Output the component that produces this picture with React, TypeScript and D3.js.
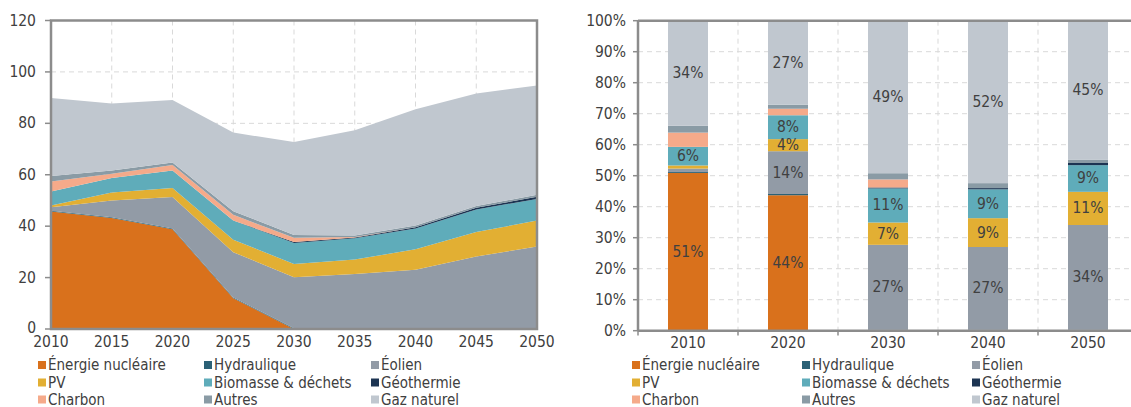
import React from 'react';
import * as d3 from 'd3';

// production by source (left, stacked areas)
const years = [2010, 2015, 2020, 2025, 2030, 2035, 2040, 2045, 2050];
const nucleaire = [45.7, 43.2, 38.8, 12.0, 0, 0, 0, 0, 0];
const hydraulique = [0.3, 0.3, 0.3, 0.3, 0.3, 0.3, 0.3, 0.3, 0.3];
const eolien = [1.4, 6.5, 12.2, 17.6, 19.8, 21.1, 22.7, 27.9, 31.8];
const pv = [0.6, 3.1, 3.5, 4.8, 5.2, 5.6, 8.0, 9.5, 10.1];
const biomasse = [5.5, 5.6, 6.9, 7.5, 8.2, 8.3, 8.1, 8.8, 8.4];
const geothermie = [0, 0, 0, 0, 0.3, 0.3, 0.5, 0.7, 0.8];
const charbon = [3.9, 1.7, 2.1, 2.2, 1.7, 0.2, 0, 0, 0];
const autres = [2.1, 1.3, 1.0, 1.4, 1.1, 0.6, 0.7, 0.6, 0.8];
const gaz = [30.4, 26.0, 24.3, 30.6, 36.1, 40.9, 45.2, 43.8, 42.5];

// shares in % (right, stacked bars)
const shareYears = [2010, 2020, 2030, 2040, 2050];
const nucleairePct = [50.9, 43.7, 0, 0, 0];
const hydrauliquePct = [0.3, 0.4, 0.3, 0.3, 0.3];
const eolienPct = [1.1, 13.8, 27.4, 26.7, 33.8];
const pvPct = [1.0, 3.9, 7.2, 9.3, 10.7];
const biomassePct = [6.0, 7.7, 11.0, 9.3, 8.6];
const geothermiePct = [0, 0, 0.3, 0.4, 0.7];
const charbonPct = [4.6, 2.1, 2.6, 0, 0];
const autresPct = [2.2, 1.3, 2.0, 1.6, 1.0];
const gazPct = [33.9, 27.1, 49.2, 52.4, 44.9];

const yTicksLeft = [0, 20, 40, 60, 80, 100, 120];
const yTicksRight = [0, 10, 20, 30, 40, 50, 60, 70, 80, 90, 100];

const keys = ['nuc', 'hyd', 'eol', 'pv', 'bio', 'geo', 'cha', 'aut', 'gaz'];
const labels = ['Énergie nucléaire', 'Hydraulique', 'Éolien', 'PV', 'Biomasse & déchets', 'Géothermie', 'Charbon', 'Autres', 'Gaz naturel'];
const colors = ['#D9711C', '#2B6176', '#929BA6', '#E2AF33', '#5FACBA', '#1C3452', '#F5AA8A', '#8A9BA5', '#C0C7CF'];
const labelled = ['nuc', 'eol', 'pv', 'bio', 'gaz'];

const font = '"DejaVu Sans Condensed", "DejaVu Sans", sans-serif';
const textCol = '#404040';
const frameCol = '#8C8C8C';
const gridCol = '#D9D9D9';

const areaSeries = [nucleaire, hydraulique, eolien, pv, biomasse, geothermie, charbon, autres, gaz];
const barSeries = [nucleairePct, hydrauliquePct, eolienPct, pvPct, biomassePct, geothermiePct, charbonPct, autresPct, gazPct];

const Legend = ({ x0, cols }) => {
  const rows = [365, 382.5, 399.5];
  return (
    <g>
      {labels.map((l, i) => {
        const cx = x0 + cols[i % 3];
        const cy = rows[Math.floor(i / 3)];
        return (
          <g key={l}>
            <rect x={cx} y={cy - 4} width={8} height={8} fill={colors[i]} />
            <text x={cx + 10} y={cy} dominantBaseline="central" fontSize={15} fill={textCol} fontFamily={font}>{l}</text>
          </g>
        );
      })}
    </g>
  );
};

const AreaChart = () => {
  const x = d3.scaleLinear().domain([2010, 2050]).range([51, 537]);
  const y = d3.scaleLinear().domain([0, 120]).range([329, 20.5]);
  const rows = years.map((yr, i) => {
    const r: any = { year: yr };
    keys.forEach((k, j) => (r[k] = areaSeries[j][i]));
    return r;
  });
  const stacked = d3.stack().keys(keys)(rows);
  const area = d3.area<any>()
    .x((d) => x(d.data.year))
    .y0((d) => y(d[0]))
    .y1((d) => y(d[1]));

  return (
    <g>
      {yTicksLeft.slice(1, -1).map((t) => (
        <line key={'h' + t} x1={51} x2={537} y1={y(t)} y2={y(t)} stroke={gridCol} strokeDasharray="5,4" />
      ))}
      {years.slice(1, -1).map((t) => (
        <line key={'v' + t} x1={x(t)} x2={x(t)} y1={20.5} y2={329} stroke={gridCol} strokeDasharray="5,4" />
      ))}
      {stacked.map((s, i) => (
        <path key={s.key} d={area(s) || ''} fill={colors[i]} />
      ))}
      <rect x={51} y={20.5} width={486} height={308.5} fill="none" stroke={frameCol} strokeWidth={2.5} />
      {yTicksLeft.map((t) => (
        <g key={'t' + t}>
          <line x1={45} x2={51} y1={y(t)} y2={y(t)} stroke={frameCol} strokeWidth={1.5} />
          <text x={36} y={y(t) - (t === 0 ? 1 : 0)} textAnchor="end" dominantBaseline="central" fontSize={15.5} fill={textCol} fontFamily={font}>{t}</text>
        </g>
      ))}
      {years.map((t) => (
        <text key={'x' + t} x={x(t)} y={347} textAnchor="middle" fontSize={15.5} fill={textCol} fontFamily={font}>{t}</text>
      ))}
    </g>
  );
};

const BarChart = () => {
  const x = d3.scaleBand<number>().domain(shareYears).range([638, 1138]).paddingInner(0.6).paddingOuter(0.3);
  const y = d3.scaleLinear().domain([0, 100]).range([330.7, 20.7]);
  const rows = shareYears.map((yr, i) => {
    const r: any = { year: yr };
    keys.forEach((k, j) => (r[k] = barSeries[j][i]));
    return r;
  });
  const stacked = d3.stack().keys(keys)(rows);
  const step = x.step();
  const bounds = shareYears.map((_, i) => 638 + i * step).concat([638 + shareYears.length * step]);

  return (
    <g>
      {yTicksRight.slice(1, -1).map((t) => (
        <line key={'h' + t} x1={638} x2={1131} y1={y(t)} y2={y(t)} stroke={gridCol} strokeDasharray="5,4" />
      ))}
      {bounds.slice(1).map((b) => (
        <line key={'v' + b} x1={b} x2={b} y1={20.7} y2={330.7} stroke={gridCol} strokeDasharray="5,4" />
      ))}
      {stacked.map((s, i) => (
        <g key={s.key}>
          {s.map((d: any) => (
            <rect key={d.data.year} x={x(d.data.year)} width={x.bandwidth()} y={y(d[1])} height={Math.max(0, y(d[0]) - y(d[1]))} fill={colors[i]} />
          ))}
        </g>
      ))}
      {stacked.map((s) =>
        labelled.includes(s.key)
          ? s.map((d: any) => {
              const v = d[1] - d[0];
              if (v < 3.5) return null;
              return (
                <text key={s.key + d.data.year} x={(x(d.data.year) || 0) + x.bandwidth() / 2} y={y((d[0] + d[1]) / 2)} textAnchor="middle" dominantBaseline="central" fontSize={15.5} fill={textCol} fontFamily={font}>
                  {Math.round(v) + '%'}
                </text>
              );
            })
          : null
      )}
      <line x1={638} x2={1131} y1={20.7} y2={20.7} stroke={frameCol} strokeWidth={2.5} />
      <line x1={638} x2={1131} y1={330.7} y2={330.7} stroke={frameCol} strokeWidth={2.5} />
      <line x1={638} x2={638} y1={20.7} y2={330.7} stroke={frameCol} strokeWidth={2.5} />
      {bounds.map((b) => (
        <line key={'bt' + b} x1={b} x2={b} y1={330.7} y2={335.5} stroke={frameCol} strokeWidth={1.5} />
      ))}
      {yTicksRight.map((t) => (
        <g key={'t' + t}>
          <line x1={633} x2={638} y1={y(t)} y2={y(t)} stroke={frameCol} strokeWidth={1.5} />
          <text x={626} y={y(t)} textAnchor="end" dominantBaseline="central" fontSize={15.5} fill={textCol} fontFamily={font}>{t + '%'}</text>
        </g>
      ))}
      {shareYears.map((t) => (
        <text key={'x' + t} x={(x(t) || 0) + x.bandwidth() / 2} y={348} textAnchor="middle" fontSize={15.5} fill={textCol} fontFamily={font}>{t}</text>
      ))}
    </g>
  );
};

export default function App() {
  return (
    <svg width={1131} height={407} style={{ position: 'absolute', left: 0, top: 0, background: '#fff' }}>
      <AreaChart />
      <BarChart />
      <Legend x0={0} cols={[38, 204, 371]} />
      <Legend x0={594} cols={[38, 208, 378]} />
    </svg>
  );
}
